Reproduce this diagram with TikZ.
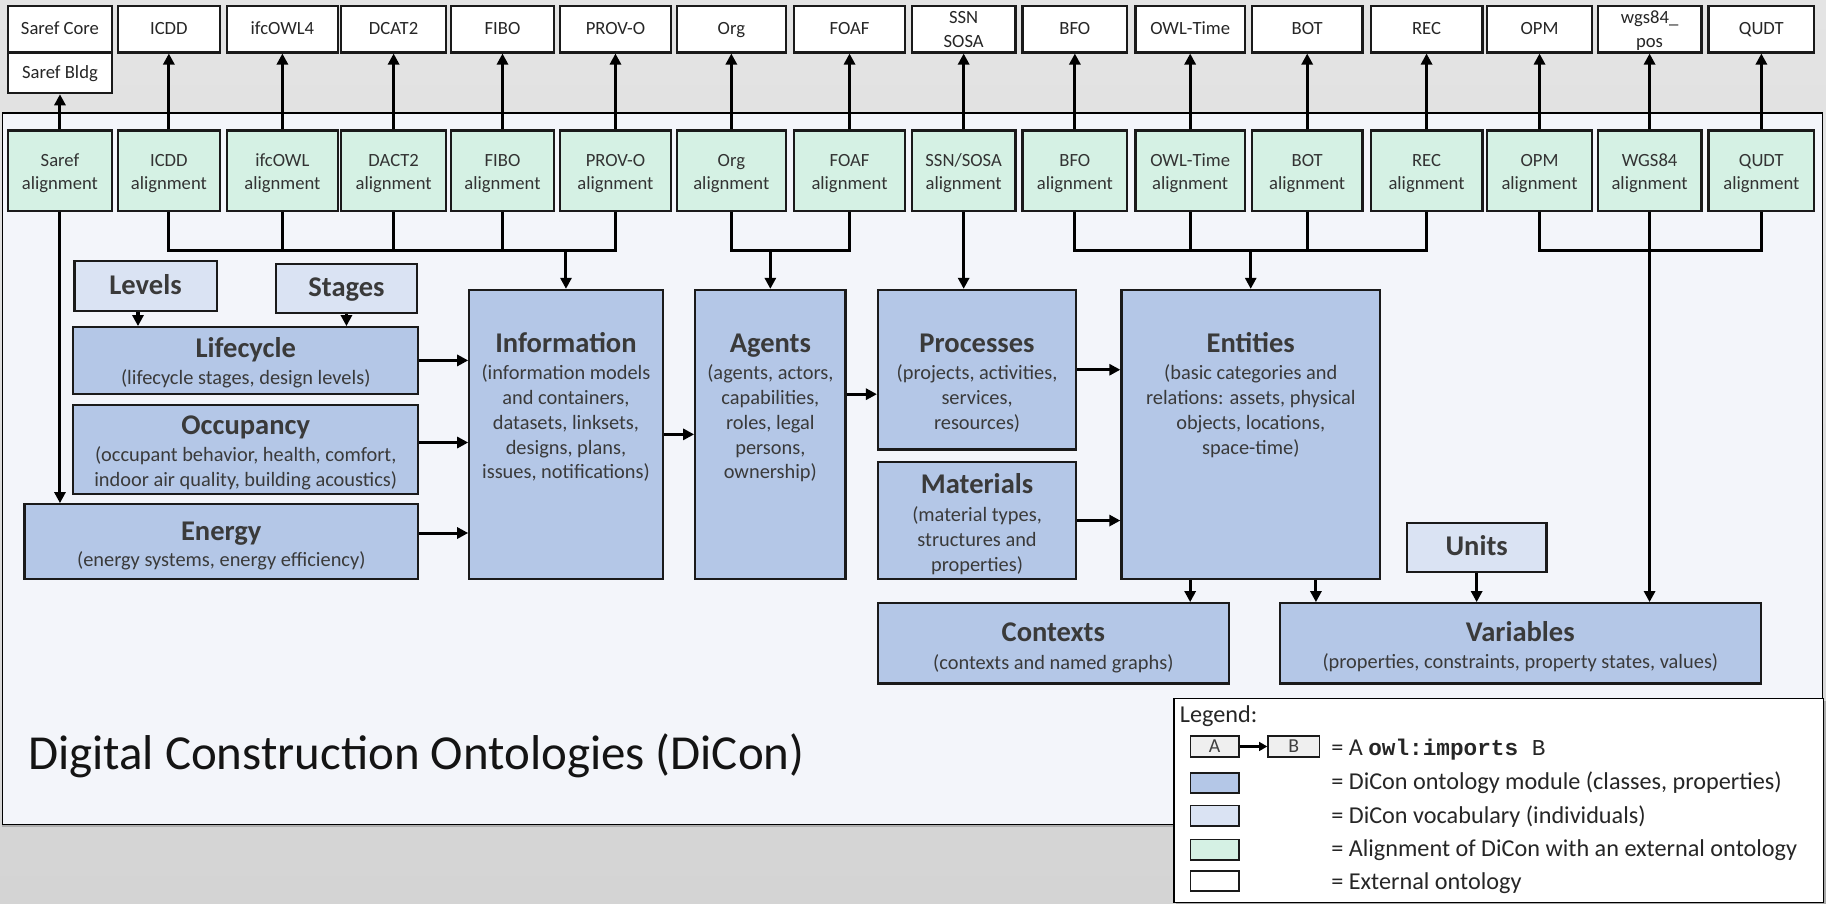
\documentclass[tikz,border=0pt]{standalone}
\usepackage{fontspec}
\setmainfont{Carlito}
\newfontfamily\codefont{Liberation Mono}
\usetikzlibrary{arrows.meta,shadows}

\definecolor{modfill}{HTML}{B4C7E7}
\definecolor{vocfill}{HTML}{DAE3F3}
\definecolor{alnfill}{HTML}{D5F1E4}
\definecolor{panelfill}{HTML}{F3F5FA}
\definecolor{bgtop}{HTML}{E4E4E4}
\definecolor{bgbot}{HTML}{D4D4D4}
\definecolor{edge}{HTML}{1A1A1A}
\definecolor{modtext}{HTML}{3A3A3A}
\definecolor{keyfill}{HTML}{EFEFEF}

\newcommand\textlines[1]{\begin{tabular}[t]{@{}c@{}}#1\end{tabular}}

\tikzset{
  box/.style={draw=edge, line width=1.9pt, rectangle, inner sep=0pt},
  ext/.style={box, fill=white, font=\fontsize{16}{20}\selectfont, text=black!85,
              text height=12pt, text depth=2pt, minimum height=40pt},
  exttwo/.style={box, fill=white, font=\fontsize{16}{20}\selectfont, text=black!85,
              text height=14pt, text depth=23pt, minimum height=40pt},
  aln/.style={box, fill=alnfill, font=\fontsize{16}{20}\selectfont, text=black!80,
              text height=14pt, text depth=21pt, minimum height=69pt},
  mod/.style={box, fill=modfill},
  voc/.style={box, fill=vocfill, font=\fontsize{24.5}{28}\selectfont\bfseries, text=modtext,
              text height=18pt, text depth=4pt},
  ttl/.style={font=\fontsize{24.5}{28}\selectfont\bfseries, text=modtext, anchor=base, inner sep=0pt},
  subtxt/.style={font=\fontsize{17.5}{21.2}\selectfont, text=modtext, anchor=base, inner sep=0pt},
  wire/.style={line width=2.6pt, draw=black},
  imp/.style={wire, -{Triangle[length=9.5pt,width=9.5pt]}},
  keybox/.style={draw=edge, line width=1.5pt, inner sep=0pt, minimum width=41.5pt, minimum height=17.5pt},
  keytxt/.style={font=\fontsize{20.8}{24}\selectfont, text=black!85, anchor=base west, inner sep=0pt},
}

\begin{document}
\begin{tikzpicture}[x=1pt, y=-1pt]
\useasboundingbox (0,0) rectangle (1568,776);
% textured backdrop
\shade[top color=bgtop, bottom color=bgbot] (0,0) rectangle (1568,776);

% DiCon panel
\node[draw=black, line width=1.2pt, fill=panelfill, minimum width=1563pt, minimum height=611pt,
      inner sep=0pt, drop shadow={shadow xshift=0pt, shadow yshift=-2.5pt, opacity=0.45}]
      (panel) at (783.5,402.5) {};
\node[font=\fontsize{42}{50}\selectfont, text=black!92, anchor=base west, inner sep=0pt]
      (title) at (24,661) {Digital Construction Ontologies (DiCon)};

% external ontologies
\node[ext, minimum width=89pt] (e-saref) at (51.5,25) {Saref Core};
\node[ext, minimum width=89pt, minimum height=35pt] (e-sarefb) at (51.5,62.5) {Saref Bldg};
\node[ext, minimum width=88pt] (e-icdd) at (145,25) {ICDD};
\node[ext, minimum width=95pt] (e-ifcowl) at (242.5,25) {ifcOWL4};
\node[ext, minimum width=90pt] (e-dcat) at (338,25) {DCAT2};
\node[ext, minimum width=89pt] (e-fibo) at (431.5,25) {FIBO};
\node[ext, minimum width=95pt] (e-provo) at (528.5,25) {PROV-O};
\node[ext, minimum width=94pt] (e-org) at (628,25) {Org};
\node[ext, minimum width=95pt] (e-foaf) at (729.5,25) {FOAF};
\node[exttwo, minimum width=89pt] (e-ssn) at (827.5,25) {\textlines{SSN\\SOSA}};
\node[ext, minimum width=90pt] (e-bfo) at (923,25) {BFO};
\node[ext, minimum width=94pt] (e-time) at (1022,25) {OWL-Time};
\node[ext, minimum width=95pt] (e-bot) at (1122.5,25) {BOT};
\node[ext, minimum width=96pt] (e-rec) at (1225,25) {REC};
\node[ext, minimum width=90pt] (e-opm) at (1322,25) {OPM};
\node[exttwo, minimum width=89pt] (e-wgs) at (1416.5,25) {\textlines{wgs84\_\\pos}};
\node[ext, minimum width=91pt] (e-qudt) at (1512.5,25) {QUDT};

% alignment modules
\node[aln, minimum width=89pt] (a-saref) at (51.5,146.5) {\textlines{Saref\\alignment}};
\node[aln, minimum width=88pt] (a-icdd) at (145,146.5) {\textlines{ICDD\\alignment}};
\node[aln, minimum width=95pt] (a-ifcowl) at (242.5,146.5) {\textlines{ifcOWL\\alignment}};
\node[aln, minimum width=90pt] (a-dcat) at (338,146.5) {\textlines{DACT2\\alignment}};
\node[aln, minimum width=89pt] (a-fibo) at (431.5,146.5) {\textlines{FIBO\\alignment}};
\node[aln, minimum width=95pt] (a-provo) at (528.5,146.5) {\textlines{PROV-O\\alignment}};
\node[aln, minimum width=94pt] (a-org) at (628,146.5) {\textlines{Org\\alignment}};
\node[aln, minimum width=95pt] (a-foaf) at (729.5,146.5) {\textlines{FOAF\\alignment}};
\node[aln, minimum width=89pt] (a-ssn) at (827.5,146.5) {\textlines{SSN/SOSA\\alignment}};
\node[aln, minimum width=90pt] (a-bfo) at (923,146.5) {\textlines{BFO\\alignment}};
\node[aln, minimum width=94pt] (a-time) at (1022,146.5) {\textlines{OWL-Time\\alignment}};
\node[aln, minimum width=95pt] (a-bot) at (1122.5,146.5) {\textlines{BOT\\alignment}};
\node[aln, minimum width=96pt] (a-rec) at (1225,146.5) {\textlines{REC\\alignment}};
\node[aln, minimum width=90pt] (a-opm) at (1322,146.5) {\textlines{OPM\\alignment}};
\node[aln, minimum width=89pt] (a-wgs) at (1416.5,146.5) {\textlines{WGS84\\alignment}};
\node[aln, minimum width=91pt] (a-qudt) at (1512.5,146.5) {\textlines{QUDT\\alignment}};

% vocabularies
\node[voc, minimum width=122pt, minimum height=43pt] (levels) at (125,245.5) {Levels};
\node[voc, minimum width=121pt, minimum height=42pt] (stages) at (297.5,248) {Stages};
\node[voc, minimum width=120pt, minimum height=42pt] (units) at (1268,470) {Units};

% ontology modules
\node[mod, minimum width=296pt, minimum height=57pt] (life) at (211,309.5) {};
\node[ttl] (life-t) at (211,307) {Lifecycle};
\node[subtxt] (life-s) at (211,330.5) {(lifecycle stages, design levels)};

\node[mod, minimum width=296pt, minimum height=76pt] (occ) at (211,386) {};
\node[ttl] (occ-t) at (211,373) {Occupancy};
\node[subtxt] (occ-s) at (211,396.7) {\textlines{(occupant behavior, health, comfort,\\indoor air quality, building acoustics)}};

\node[mod, minimum width=338pt, minimum height=64pt] (energy) at (190,465) {};
\node[ttl] (energy-t) at (190,463.7) {Energy};
\node[subtxt] (energy-s) at (190,486.6) {(energy systems, energy efficiency)};

\node[mod, minimum width=166pt, minimum height=248pt] (info) at (486,373) {};
\node[ttl] (info-t) at (486,302.8) {Information};
\node[subtxt] (info-s) at (486,326.3) {\textlines{(information models\\and containers,\\datasets, linksets,\\designs, plans,\\issues, notifications)}};

\node[mod, minimum width=129pt, minimum height=248pt] (agents) at (661.5,373) {};
\node[ttl] (agents-t) at (661.5,302.8) {Agents};
\node[subtxt] (agents-s) at (661.5,326.3) {\textlines{(agents, actors,\\capabilities,\\roles, legal\\persons,\\ownership)}};

\node[mod, minimum width=170pt, minimum height=137pt] (proc) at (839,317.5) {};
\node[ttl] (proc-t) at (839,302.8) {Processes};
\node[subtxt] (proc-s) at (839,326.3) {\textlines{(projects, activities,\\services,\\resources)}};

\node[mod, minimum width=170pt, minimum height=100pt] (mat) at (839,447) {};
\node[ttl] (mat-t) at (839,424) {Materials};
\node[subtxt] (mat-s) at (839,448) {\textlines{(material types,\\structures and\\properties)}};

\node[mod, minimum width=222pt, minimum height=248pt] (ent) at (1074,373) {};
\node[ttl] (ent-t) at (1074,302.8) {Entities};
\node[subtxt] (ent-s) at (1074,326.3) {\textlines{(basic categories and\\relations: assets, physical\\objects, locations,\\space-time)}};

\node[mod, minimum width=301pt, minimum height=69pt] (ctx) at (904.5,552.5) {};
\node[ttl] (ctx-t) at (904.5,551) {Contexts};
\node[subtxt] (ctx-s) at (904.5,574.6) {(contexts and named graphs)};

\node[mod, minimum width=413pt, minimum height=69pt] (var) at (1305.5,552.5) {};
\node[ttl] (var-t) at (1305.5,551) {Variables};
\node[subtxt] (var-s) at (1305.5,574.4) {(properties, constraints, property states, values)};

% alignments import their external ontologies
\draw[imp] (a-saref.north) -- (e-sarefb.south);
\foreach \n in {icdd,ifcowl,dcat,fibo,provo,org,foaf,ssn,bfo,time,bot,rec,opm,wgs,qudt}
  \draw[imp] (a-\n.north) -- (e-\n.south);

% modules import alignments
\coordinate (bus1) at (486,215);
\draw[wire] (a-icdd.south) |- (a-provo.south |- bus1) -- (a-provo.south);
\foreach \n in {ifcowl,dcat,fibo}
  \draw[wire] (a-\n.south) -- (a-\n.south |- bus1);
\draw[imp] (bus1) -- (info.north);

\coordinate (bus2) at (661.5,215);
\draw[wire] (a-org.south) |- (a-foaf.south |- bus2) -- (a-foaf.south);
\draw[imp] (bus2) -- (agents.north);

\draw[imp] (a-ssn.south) -- (a-ssn.south |- proc.north);

\coordinate (bus4) at (1074,215);
\draw[wire] (a-bfo.south) |- (a-rec.south |- bus4) -- (a-rec.south);
\foreach \n in {time,bot}
  \draw[wire] (a-\n.south) -- (a-\n.south |- bus4);
\draw[imp] (bus4) -- (ent.north);

\coordinate (bus5) at (1416.5,215);
\draw[wire] (a-opm.south) |- (a-qudt.south |- bus5) -- (a-qudt.south);
\draw[imp] (a-wgs.south) -- (a-wgs.south |- var.north);

\draw[imp] (a-saref.south) -- (a-saref.south |- energy.north);

% imports between modules
\coordinate (lv-out) at ([xshift=-6.5pt]levels.south);
\draw[imp] (lv-out) -- (lv-out |- life.north);
\draw[imp] (stages.south) -- (stages.south |- life.north);
\draw[imp] (life.east) -- (life.east -| info.west);
\coordinate (occ-out) at ([yshift=6pt]occ.east);
\draw[imp] (occ-out) -- (occ-out -| info.west);
\coordinate (en-out) at ([yshift=7.3pt]energy.east);
\draw[imp] (en-out) -- (en-out -| info.west);
\draw[imp] (info.east) -- (agents.west);
\coordinate (ag-out) at ([yshift=34.5pt]agents.east);
\draw[imp] (ag-out) -- (ag-out -| proc.west);
\draw[imp] (proc.east) -- (proc.east -| ent.west);
\draw[imp] (mat.east) -- (mat.east -| ent.west);
\coordinate (en-ctx) at ([xshift=-52pt]ent.south);
\draw[imp] (en-ctx) -- (en-ctx |- ctx.north);
\coordinate (en-var) at ([xshift=56pt]ent.south);
\draw[imp] (en-var) -- (en-var |- var.north);
\draw[imp] (units.south) -- (units.south |- var.north);

% legend
\node[draw=black, line width=1.2pt, fill=white, minimum width=558pt, minimum height=175pt, inner sep=0pt,
      drop shadow={shadow xshift=2pt, shadow yshift=-2pt, opacity=0.5}]
      (legend) at (1287,687.5) {};
\node[keytxt] (leg-t) at (1013,620) {Legend:};
\node[keybox, fill=keyfill, font=\fontsize{17}{20}\selectfont, text=black!75] (key-a) at (1043,641) {A};
\node[keybox, fill=keyfill, minimum width=44pt, font=\fontsize{17}{20}\selectfont, text=black!75] (key-b) at (1111,641) {B};
\draw[line width=2pt, -{Triangle[length=7pt,width=7.5pt]}] (key-a.east) -- (key-b.west);
\node[keybox, fill=modfill] (key-mod) at (1043,672.3) {};
\node[keybox, fill=vocfill] (key-voc) at (1043,700.5) {};
\node[keybox, fill=alnfill] (key-aln) at (1043,729.7) {};
\node[keybox, fill=white] (key-ext) at (1043,756.4) {};
\node[keytxt] (leg-imp) at (1143,648.5) {= A {\codefont\fontsize{19.5}{22}\selectfont\textbf{owl:imports} B}};
\node[keytxt] (leg-mod) at (1143,678) {= DiCon ontology module (classes, properties)};
\node[keytxt] (leg-voc) at (1143,706.8) {= DiCon vocabulary (individuals)};
\node[keytxt] (leg-aln) at (1143,735.3) {= Alignment of DiCon with an external ontology};
\node[keytxt] (leg-ext) at (1143,764) {= External ontology};
\end{tikzpicture}
\end{document}
